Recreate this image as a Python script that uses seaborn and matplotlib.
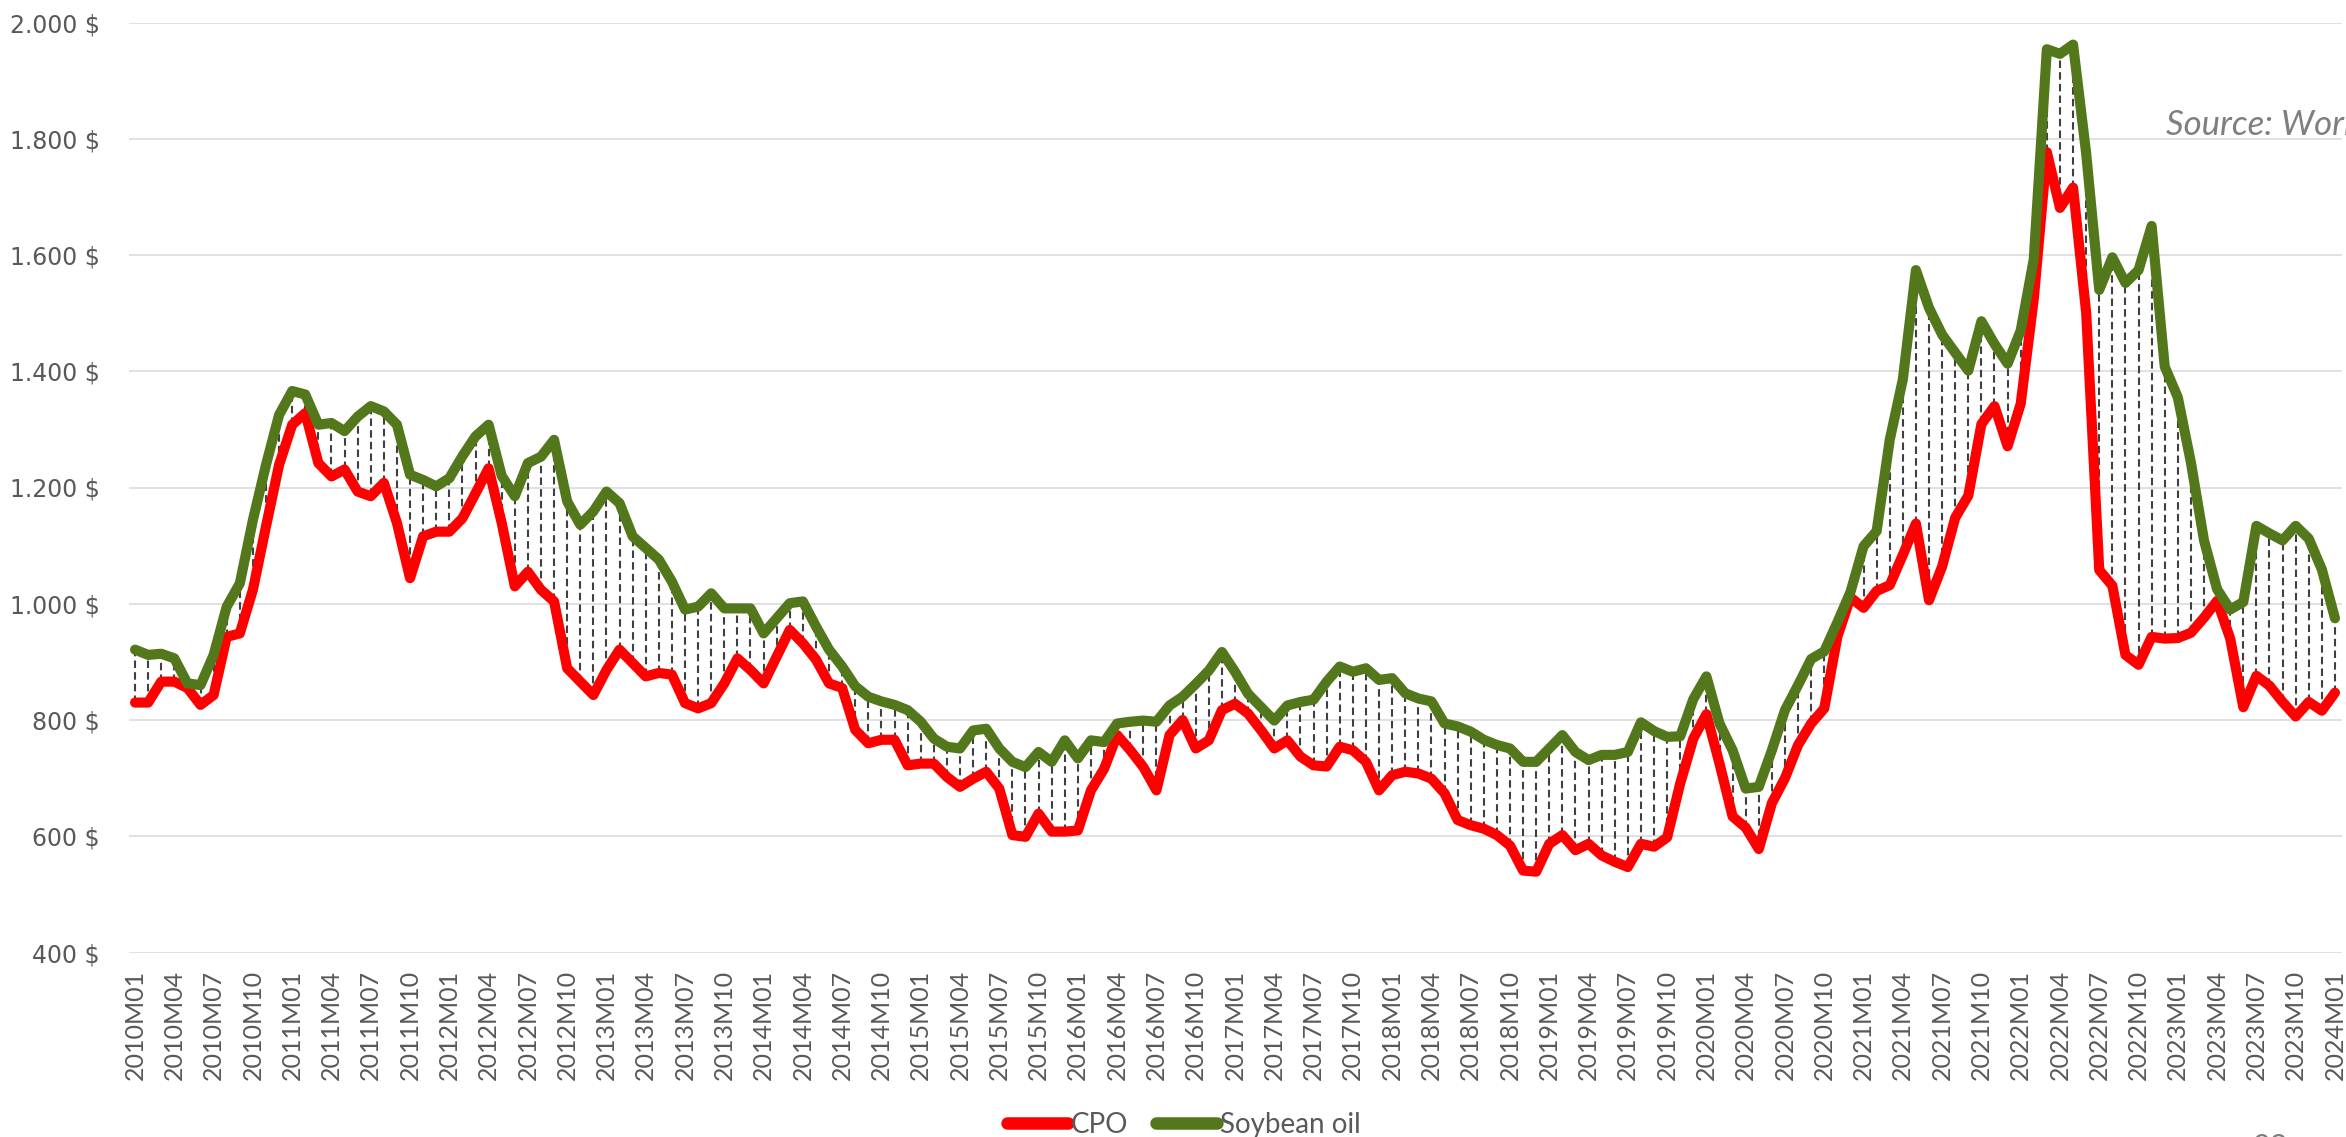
import numpy as np
import pandas as pd
import matplotlib
matplotlib.use("Agg")
import matplotlib.pyplot as plt
from matplotlib.lines import Line2D
from matplotlib.ticker import FuncFormatter
import seaborn as sns

# Monthly periods 2010M01 .. 2024M01
months = [f"{y}M{m:02d}" for y in range(2010, 2025) for m in range(1, 13)][:169]

# Crude palm oil, USD per tonne
cpo = [
    830, 830, 866, 866, 855, 826, 843, 943, 949, 1024, 1133, 1239,
    1308, 1328, 1242, 1219, 1231, 1193, 1185, 1208, 1139, 1044, 1116, 1124,
    1124, 1147, 1190, 1233, 1139, 1030, 1055, 1024, 1004, 889, 866, 843,
    886, 921, 898, 875, 881, 878, 829, 820, 829, 863, 906, 886,
    863, 909, 955, 932, 904, 863, 855, 783, 760, 766, 766, 722,
    725, 725, 702, 685, 699, 711, 682, 602, 599, 639, 608, 608,
    610, 679, 716, 774, 748, 719, 679, 774, 800, 751, 765, 817,
    828, 811, 782, 751, 765, 737, 722, 720, 754, 748, 728, 679,
    705, 711, 708, 699, 674, 628, 619, 613, 602, 584, 541, 539,
    587, 602, 576, 587, 567, 556, 547, 587, 582, 598, 691, 768,
    810, 725, 634, 615, 578, 657, 700, 757, 794, 820, 943, 1011,
    993, 1022, 1032, 1084, 1138, 1006, 1064, 1148, 1186, 1309, 1340, 1271,
    1344, 1524, 1777, 1681, 1716, 1501, 1058, 1031, 912, 895, 943, 940,
    941, 950, 976, 1005, 940, 822, 876, 859, 831, 806, 831, 816,
    847,
]

# Soybean oil, USD per tonne
soybean = [
    921, 912, 914, 906, 863, 860, 912, 995, 1035, 1144, 1239, 1325,
    1366, 1360, 1308, 1311, 1297, 1322, 1340, 1331, 1308, 1222, 1213, 1202,
    1216, 1254, 1288, 1308, 1220, 1185, 1242, 1253, 1282, 1176, 1136, 1159,
    1193, 1173, 1116, 1096, 1076, 1038, 990, 995, 1018, 992, 992, 992,
    949, 975, 1001, 1004, 961, 921, 892, 858, 840, 832, 826, 817,
    797, 768, 754, 751, 782, 785, 751, 728, 719, 745, 728, 765,
    734, 765, 762, 794, 797, 799, 797, 825, 840, 862, 885, 917,
    883, 845, 822, 799, 825, 831, 835, 866, 892, 883, 889, 869,
    872, 846, 837, 832, 794, 789, 780, 766, 757, 751, 728, 728,
    751, 774, 745, 731, 740, 740, 745, 796, 781, 771, 772, 836,
    875, 794, 748, 682, 685, 748, 817, 860, 905, 918, 968, 1020,
    1099, 1125, 1282, 1386, 1574, 1509, 1463, 1432, 1401, 1486, 1447, 1413,
    1470, 1593, 1954, 1946, 1962, 1775, 1540, 1596, 1552, 1574, 1650, 1408,
    1355, 1243, 1109, 1025, 990, 1003, 1134, 1121, 1109, 1134, 1112, 1059,
    975,
]

series_names = ["CPO", "Soybean oil"]
series_colors = {"CPO": "#FF0000", "Soybean oil": "#53771B"}
tick_labels = months[::3]

idx = np.arange(len(months))
df = pd.DataFrame({
    "idx": np.concatenate([idx, idx]),
    "price": cpo + soybean,
    "series": ["CPO"] * len(cpo) + ["Soybean oil"] * len(soybean),
})

sns.set_theme(style="white")
plt.rcParams["font.family"] = ["Lato", "DejaVu Sans"]

W, H = 2346, 1137
fig = plt.figure(figsize=(W / 100, H / 100), dpi=100)
ax_left, ax_right = 128.5, 2341.5
ax_top, ax_bottom = 22.5, 952.5
ax = fig.add_axes([ax_left / W, 1 - ax_bottom / H,
                   (ax_right - ax_left) / W, (ax_bottom - ax_top) / H])

# high-low drop lines between the two series
lo = np.minimum(cpo, soybean)
hi = np.maximum(cpo, soybean)
ax.vlines(idx, lo, hi, colors="#404040", linestyles=(0, (3.6, 2.0)),
          linewidth=1.5, zorder=1)

sns.lineplot(data=df, x="idx", y="price", hue="series", hue_order=series_names,
             palette=series_colors, linewidth=7.3, sort=False, legend=False,
             ax=ax, zorder=3, solid_joinstyle="round", solid_capstyle="round")

ax.set_xlim(-0.5, len(months) - 0.5)
ax.set_ylim(400, 2000)
ax.set_yticks(np.arange(400, 2001, 200))
ax.yaxis.set_major_formatter(
    FuncFormatter(lambda v, _: f"{int(v):,}".replace(",", ".") + " $"))
ax.set_xticks(idx[::3])
ax.set_xticklabels(tick_labels, rotation=90)
ax.set_xlabel("")
ax.set_ylabel("")

ax.tick_params(axis="y", length=0, pad=20.5, labelsize=17,
               labelcolor="#595959")
ax.tick_params(axis="x", length=0, pad=12.5, labelsize=18,
               labelcolor="#595959")
for lab in ax.get_yticklabels():
    lab.set_fontfamily(["DejaVu Sans"])

ax.yaxis.grid(True, color="#D9D9D9", linewidth=1.1)
ax.xaxis.grid(False)
for s in ax.spines.values():
    s.set_visible(False)
ax.set_axisbelow(True)

handles = [Line2D([], [], color=series_colors[n], linewidth=9,
                  solid_capstyle="round") for n in series_names]
fig.legend(handles, series_names, loc="center",
           bbox_to_anchor=(1184 / W, 1 - 1125 / H), ncol=2, frameon=False,
           fontsize=20, handlelength=2.2, handletextpad=0.1,
           columnspacing=1.0, labelcolor="#595959")

# source note runs past the right edge of the page
fig.text(2166 / W, 1 - 135 / H, "Source: World Bank", style="italic",
         color="#7F7F7F", fontsize=25, ha="left", va="baseline")
# page number, mostly below the page edge
fig.text(2253 / W, 1 - 1133 / H, "23", color="#7F7F7F", fontsize=22,
         ha="left", va="top")

fig.savefig("out.png", dpi=100)
